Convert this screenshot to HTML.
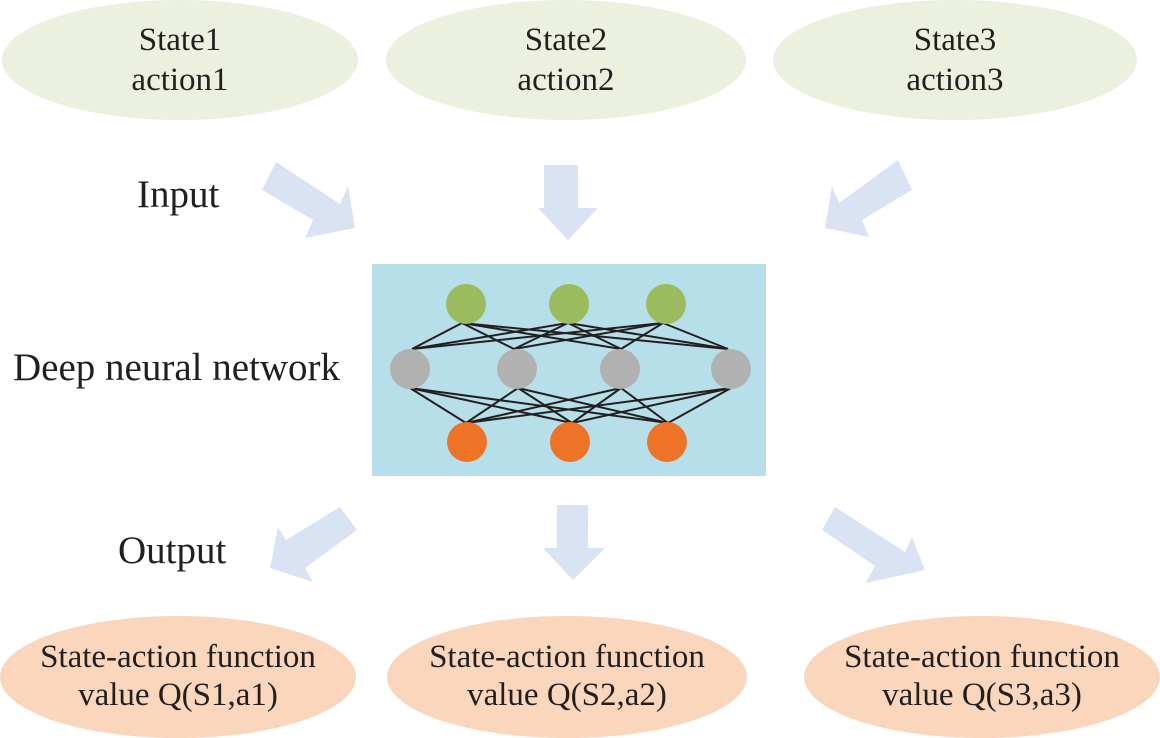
<!DOCTYPE html>
<html><head><meta charset="utf-8"><style>
html,body{margin:0;padding:0;background:#fff;}
svg{display:block;}
text{font-family:"Liberation Serif",serif;fill:#231f20;}
</style></head><body>
<svg width="1160" height="738" viewBox="0 0 1160 738" xmlns="http://www.w3.org/2000/svg">
<g fill="#ebf1de">
<ellipse cx="180" cy="60" rx="178" ry="60"/>
<ellipse cx="566" cy="60" rx="180" ry="60"/>
<ellipse cx="955" cy="60" rx="182" ry="60"/>
</g>
<g font-size="33" text-anchor="middle">
<text x="180" y="50">State1</text><text x="180" y="90">action1</text>
<text x="566" y="50">State2</text><text x="566" y="90">action2</text>
<text x="955" y="50">State3</text><text x="955" y="90">action3</text>
</g>
<g fill="#dae3f3">
<polygon points="276,162 262,190 313,220 305,238 355,228 348,186 340,204"/>
<polygon points="544,165 578,165 578,208 598,208 568,240 538,208 544,208"/>
<polygon points="898,160 912,190 862,220 869,237 825,228 832,186 839,203"/>
<polygon points="340,507 357,530 305,568 313,582 270,568 278,527 286,540"/>
<polygon points="557,505 588,505 588,548 605,548 573,580 543,548 557,548"/>
<polygon points="835,507 822,530 875,566 866,583 925,570 912,537 905,552"/>
</g>
<text x="137" y="207" font-size="39">Input</text>
<text x="13" y="380" font-size="39">Deep neural network</text>
<text x="118" y="563" font-size="39">Output</text>
<rect x="372" y="264" width="394" height="212" fill="#b7dfea"/>
<g stroke="#231f20" stroke-width="2">
<line x1="462" y1="323" x2="412" y2="349"/><line x1="462" y1="323" x2="514" y2="349"/><line x1="462" y1="323" x2="621" y2="349"/><line x1="462" y1="323" x2="728" y2="349"/>
<line x1="568" y1="323" x2="412" y2="349"/><line x1="568" y1="323" x2="514" y2="349"/><line x1="568" y1="323" x2="621" y2="349"/><line x1="568" y1="323" x2="728" y2="349"/>
<line x1="663" y1="323" x2="412" y2="349"/><line x1="663" y1="323" x2="514" y2="349"/><line x1="663" y1="323" x2="621" y2="349"/><line x1="663" y1="323" x2="728" y2="349"/>
<line x1="410" y1="388" x2="466" y2="423"/><line x1="410" y1="388" x2="572" y2="423"/><line x1="410" y1="388" x2="668" y2="423"/>
<line x1="518" y1="388" x2="466" y2="423"/><line x1="518" y1="388" x2="572" y2="423"/><line x1="518" y1="388" x2="668" y2="423"/>
<line x1="621" y1="388" x2="466" y2="423"/><line x1="621" y1="388" x2="572" y2="423"/><line x1="621" y1="388" x2="668" y2="423"/>
<line x1="731" y1="388" x2="466" y2="423"/><line x1="731" y1="388" x2="572" y2="423"/><line x1="731" y1="388" x2="668" y2="423"/>
</g>
<g fill="#9bbb5f"><circle cx="466" cy="304" r="20"/><circle cx="569" cy="304" r="20"/><circle cx="666" cy="304" r="20"/></g>
<g fill="#b1b1b1"><circle cx="410" cy="369" r="20"/><circle cx="517" cy="369" r="20"/><circle cx="620" cy="369" r="20"/><circle cx="731" cy="369" r="20"/></g>
<g fill="#ed7426"><circle cx="467" cy="442" r="20"/><circle cx="570" cy="442" r="20"/><circle cx="667" cy="442" r="20"/></g>
<g fill="#fad7bc">
<ellipse cx="178" cy="677" rx="178" ry="61"/>
<ellipse cx="567" cy="677" rx="180" ry="61"/>
<ellipse cx="982" cy="677" rx="178" ry="61"/>
</g>
<g font-size="33" text-anchor="middle">
<text x="178" y="667">State-action function</text><text x="178" y="705">value Q(S1,a1)</text>
<text x="567" y="667">State-action function</text><text x="567" y="705">value Q(S2,a2)</text>
<text x="982" y="667">State-action function</text><text x="982" y="705">value Q(S3,a3)</text>
</g>
</svg>
</body></html>
